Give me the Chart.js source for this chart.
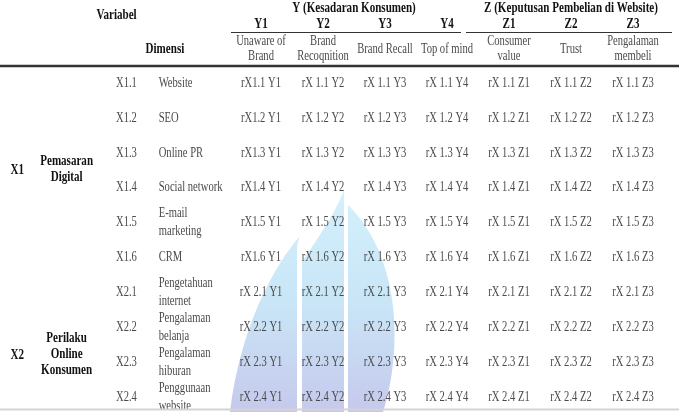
<!DOCTYPE html>
<html>
<head>
<meta charset="utf-8">
<script src="https://cdn.jsdelivr.net/npm/chart.js@4.4.0/dist/chart.umd.min.js"></script>
<style>
  html, body { margin: 0; padding: 0; background: #fff; }
  #wrap { width: 679px; height: 412px; position: relative; }
</style>
</head>
<body>
<div id="wrap"><canvas id="tabelKorelasi"></canvas></div>
<script>
// isi tabel
var kodeVariabelX = ["X1", "X2"]
var namaVariabelX = [["Pemasaran", "Digital"], ["Perilaku", "Online", "Konsumen"]]
var jumlahIndikator = [6, 4]
var kodeIndikator = ["X1.1", "X1.2", "X1.3", "X1.4", "X1.5", "X1.6", "X2.1", "X2.2", "X2.3", "X2.4"]
var namaIndikator = ["Website", "SEO", "Online PR", "Social network", ["E-mail", "marketing"], "CRM",
  ["Pengetahuan", "internet"], ["Pengalaman", "belanja"], ["Pengalaman", "hiburan"], ["Penggunaan", "website"]]
var kelompokDimensi = ["Y (Kesadaran Konsumen)", "Z (Keputusan Pembelian di Website)"]
var jumlahDimensi = [4, 3]
var kodeDimensi = ["Y1", "Y2", "Y3", "Y4", "Z1", "Z2", "Z3"]
var namaDimensi = [["Unaware of", "Brand"], ["Brand", "Recoqnition"], "Brand Recall", "Top of mind",
  ["Consumer", "value"], "Trust", ["Pengalaman", "membeli"]]
// di kolom Y1 baris X1 ditulis tanpa spasi: "rX1.1 Y1"
var tanpaSpasiY1 = [true, true, true, true, true, true, false, false, false, false]

// posisi kolom kiri dalam satuan kolom dimensi (di luar area sel)
var posKolom = { variabel: -3.93, namaVariabel: -3.135, kodeInd: -2.17, namaInd: -1.65, judulVar: -2.33, judulDim: -1.55 }
var tengahVariabel = [2.5, 7.8]

var FONT = '"Liberation Serif", "Times New Roman", serif'
var HITAM = '#111'
var ABU = '#4a4a4a'

function tulis(ctx, teks, x, y, bold, align, warna) {
  ctx.save()
  ctx.font = (bold ? 'bold 14px ' : '14.5px ') + FONT
  ctx.fillStyle = warna || (bold ? HITAM : ABU)
  ctx.textBaseline = 'middle'
  ctx.textAlign = align || 'center'
  ctx.translate(x, y)
  ctx.scale(bold ? 0.79 : 0.73, 1)
  ctx.fillText(teks, 0, 0)
  ctx.restore()
}
function tulisBaris(ctx, teks, x, y, jarak, bold, align) {
  if (!Array.isArray(teks)) { tulis(ctx, teks, x, y, bold, align); return }
  var awal = y - (teks.length - 1) * jarak / 2
  teks.forEach(function (t, i) { tulis(ctx, t, x, awal + i * jarak, bold, align) })
}
function garis(ctx, x1, x2, y, tebal, warna) {
  ctx.save()
  ctx.strokeStyle = warna
  ctx.lineWidth = tebal
  ctx.beginPath()
  ctx.moveTo(x1, y)
  ctx.lineTo(x2, y)
  ctx.stroke()
  ctx.restore()
}

// logo samar di belakang tabel
function gambarLogo(ctx) {
  ctx.save()
  var g = ctx.createLinearGradient(0, 190, 0, 412)
  g.addColorStop(0, '#d4f0fc')
  g.addColorStop(0.5, '#c9e6f7')
  g.addColorStop(1, '#c6c9ec')
  ctx.fillStyle = g
  // kelopak kiri luar
  ctx.beginPath()
  ctx.moveTo(297, 412)
  ctx.lineTo(297, 248)
  ctx.quadraticCurveTo(298, 240, 300, 236)
  ctx.bezierCurveTo(272, 268, 240, 330, 230, 412)
  ctx.closePath()
  ctx.fill()
  // kelopak kiri dalam
  ctx.beginPath()
  ctx.moveTo(302, 412)
  ctx.lineTo(302, 262)
  ctx.bezierCurveTo(316, 240, 334, 216, 344, 190)
  ctx.lineTo(344, 412)
  ctx.closePath()
  ctx.fill()
  // bagian kanan
  ctx.beginPath()
  ctx.moveTo(348, 412)
  ctx.lineTo(348, 205)
  ctx.bezierCurveTo(402, 258, 402, 352, 383, 412)
  ctx.closePath()
  ctx.fill()
  ctx.restore()
}

// sel korelasi: satu titik per sel, teks digambar di posisi titik
var sel = []
kodeIndikator.forEach(function (kode, r) {
  kodeDimensi.forEach(function (dim, c) {
    var x = kode.slice(1)
    var teks = (c === 0 && tanpaSpasiY1[r]) ? 'rX' + x + ' ' + dim : 'rX ' + x + ' ' + dim
    sel.push({ x: dim, y: kode, teks: teks })
  })
})

var pluginTabel = {
  id: 'pluginTabel',
  beforeDatasetsDraw: function (chart) {
    gambarLogo(chart.ctx)
  },
  afterDatasetsDraw: function (chart) {
    var ctx = chart.ctx
    var sx = chart.scales.x
    var sy = chart.scales.y
    var W = chart.width

    // header
    tulis(ctx, 'Variabel', sx.getPixelForValue(posKolom.judulVar), 15, true)
    tulis(ctx, 'Dimensi', sx.getPixelForValue(posKolom.judulDim), 49, true)
    var mulai = 0
    kelompokDimensi.forEach(function (k, g) {
      var a = sx.getPixelForValue(mulai)
      var b = sx.getPixelForValue(mulai + jumlahDimensi[g] - 1)
      tulis(ctx, k, (a + b) / 2, 8, true)
      if (g === 0) garis(ctx, a - 30, b + 14, 32.5, 1, '#333')
      else garis(ctx, a - 43, b + 39, 32.5, 1, '#333')
      mulai += jumlahDimensi[g]
    })
    kodeDimensi.forEach(function (d, c) {
      var x = sx.getPixelForValue(c)
      tulis(ctx, d, x, 24, true)
      tulisBaris(ctx, namaDimensi[c], x, 49, 15, false)
    })
    garis(ctx, 0, W, 66, 2.6, '#333')

    // kolom kiri
    kodeVariabelX.forEach(function (v, g) {
      var y = sy.getPixelForValue(tengahVariabel[g])
      tulis(ctx, v, sx.getPixelForValue(posKolom.variabel), y, true)
      tulisBaris(ctx, namaVariabelX[g], sx.getPixelForValue(posKolom.namaVariabel), y - 1, 16, true)
    })
    kodeIndikator.forEach(function (k, r) {
      var y = sy.getPixelForValue(r)
      tulis(ctx, k, sx.getPixelForValue(posKolom.kodeInd), y, false)
      tulisBaris(ctx, namaIndikator[r], sx.getPixelForValue(posKolom.namaInd), y, 18, false, 'left')
    })

    // isi sel
    var meta = chart.getDatasetMeta(0)
    meta.data.forEach(function (pt, i) {
      tulis(ctx, sel[i].teks, pt.x, pt.y, false)
    })

    garis(ctx, 0, W, 409.5, 2, '#d4d4d4')
  }
}

new Chart(document.getElementById('tabelKorelasi'), {
  type: 'scatter',
  data: {
    datasets: [{
      data: sel,
      pointRadius: 0,
      pointHoverRadius: 0
    }]
  },
  options: {
    responsive: true,
    maintainAspectRatio: false,
    animation: false,
    events: [],
    layout: { padding: { left: 261, right: 46, top: 83, bottom: 15 } },
    scales: {
      x: { type: 'category', labels: kodeDimensi, offset: false, display: false },
      y: { type: 'category', labels: kodeIndikator, offset: false, display: false }
    },
    plugins: {
      legend: { display: false },
      tooltip: { enabled: false },
      title: { display: false }
    }
  },
  plugins: [pluginTabel]
})
</script>
</body>
</html>
